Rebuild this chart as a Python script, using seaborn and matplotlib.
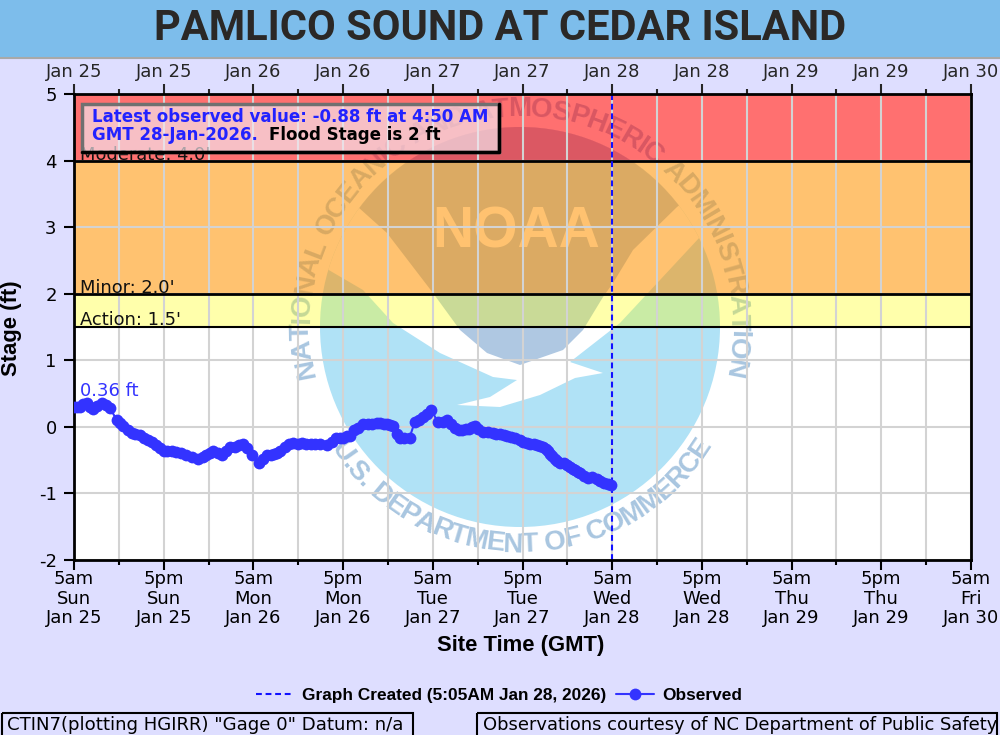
import numpy as np
import pandas as pd
import matplotlib
matplotlib.use("Agg")
import matplotlib.pyplot as plt
import matplotlib.transforms as mtransforms
from matplotlib.font_manager import FontProperties
from matplotlib.lines import Line2D
from matplotlib.patches import Circle, Polygon, Rectangle
from matplotlib.textpath import text_to_path
import seaborn as sns

# observed stage, hours after 5am Jan 25 / feet
hours = [0.0, 0.4, 0.8, 1.2, 1.7, 2.2, 2.6, 3.1, 3.7, 4.3, 4.8,
         5.7, 6.1, 6.6, 7.2, 7.7, 8.2, 8.8, 9.4, 9.9, 10.5, 11.0, 11.5, 12.0, 12.5, 13.1, 13.7, 14.3, 15.0, 15.8,
         16.6, 17.2, 17.7, 18.2, 18.6, 19.2, 19.8, 20.4, 20.9, 21.5, 22.1, 22.6, 23.2, 23.8,
         24.8, 25.3, 25.8, 26.3, 26.7, 27.2, 27.6, 28.2, 28.7, 29.3, 29.9, 30.5, 31.1, 31.7, 32.3, 32.9, 33.8,
         34.5, 35.1, 35.6, 36.0, 36.5, 36.9, 37.4, 38.0, 38.7, 39.3, 39.9, 40.5, 41.0, 41.5, 41.9, 42.3, 42.7,
         43.2, 43.6, 44.2, 44.9,
         45.6, 46.1, 46.7, 47.2, 47.8,
         48.7, 49.3, 49.9, 50.4, 51.0, 51.5, 51.9, 52.4, 52.8, 53.2, 53.6, 54.1, 54.7, 55.4, 56.0, 56.5, 57.0,
         57.5, 57.9, 58.5, 59.0, 59.6, 60.1, 60.6, 61.0, 61.5, 61.9, 62.3, 62.7, 63.1, 63.4, 63.7, 64.0, 64.3,
         64.6, 65.0, 65.5, 66.0, 66.4, 66.7, 67.0, 67.4, 67.7, 68.2, 68.8, 69.3, 69.9, 70.4, 70.9, 71.4, 71.83]
stage = [0.30, 0.30, 0.30, 0.34, 0.36, 0.30, 0.27, 0.32, 0.36, 0.33, 0.28,
         0.11, 0.06, 0.02, -0.05, -0.09, -0.11, -0.12, -0.16, -0.20, -0.23, -0.27, -0.32, -0.36, -0.37, -0.37, -0.38, -0.40, -0.42, -0.46,
         -0.48, -0.46, -0.42, -0.39, -0.36, -0.39, -0.42, -0.37, -0.31, -0.30, -0.28, -0.25, -0.32, -0.42,
         -0.55, -0.49, -0.43, -0.42, -0.41, -0.39, -0.37, -0.31, -0.25, -0.24, -0.25, -0.24, -0.25, -0.25, -0.25, -0.26, -0.28,
         -0.23, -0.17, -0.17, -0.17, -0.14, -0.13, -0.05, -0.02, 0.04, 0.04, 0.05, 0.06, 0.06, 0.05, 0.04, 0.03, 0.01,
         -0.10, -0.16, -0.17, -0.16,
         0.08, 0.11, 0.15, 0.20, 0.25,
         0.07, 0.08, 0.10, 0.04, -0.02, -0.05, -0.05, -0.03, -0.03, 0.00, 0.01, -0.03, -0.07, -0.08, -0.09, -0.10, -0.11,
         -0.12, -0.13, -0.15, -0.17, -0.20, -0.22, -0.24, -0.25, -0.26, -0.27, -0.29, -0.31, -0.34, -0.37, -0.41, -0.44, -0.48,
         -0.52, -0.54, -0.55, -0.58, -0.60, -0.63, -0.65, -0.68, -0.70, -0.74, -0.77, -0.76, -0.78, -0.81, -0.84, -0.86, -0.88]

tick_hours = list(range(0, 121, 12))
top_labels = ["Jan 25", "Jan 25", "Jan 26", "Jan 26", "Jan 27", "Jan 27",
              "Jan 28", "Jan 28", "Jan 29", "Jan 29", "Jan 30"]
bottom_times = ["5am", "5pm"] * 5 + ["5am"]
bottom_days = ["Sun", "Sun", "Mon", "Mon", "Tue", "Tue", "Wed", "Wed", "Thu", "Thu", "Fri"]
stage_ticks = [-2, -1, 0, 1, 2, 3, 4, 5]
created_hour = 72

obs = pd.DataFrame({"hours": hours, "stage": stage})

BG = "#DEDEFF"
LOGO_BLUE = "#B0E2F6"
LOGO_NAVY = "#AFC8E2"
LOGO_TEXT = "#A9C6E0"
OBS = "#3333FF"

sns.set_theme(style="white")
plt.rcParams["font.family"] = "DejaVu Sans"

fig = plt.figure(figsize=(10, 7.35), dpi=100, facecolor=BG)
ax = fig.add_axes([74 / 1000, 1 - 560 / 735, 897 / 1000, 466 / 735])
px = mtransforms.Affine2D().scale(1, -1).translate(0, 735)  # image pixels, y down

# header bar
fig.add_artist(Rectangle((0, 57), 1000, -57, transform=px, fc="#7DBDEB", ec="none"))
fig.add_artist(Line2D([0, 1000], [57.5, 57.5], transform=px, color="#A9A9A9", lw=1.5))
fig.text(0.5, 1 - 29 / 735, "PAMLICO SOUND AT CEDAR ISLAND", ha="center", va="center",
         fontsize=30, family="Roboto", weight="bold", color="#2B2826")

# NOAA seal, sits under the flood bands
disc = Circle((520, 327), 200, transform=px, fc=LOGO_BLUE, ec="none", zorder=0.6)
ax.add_patch(disc)
gull = Polygon([(315, 262), (363, 290), (393, 323), (440, 353), (493, 377), (517, 380), (490, 397),
                (457, 405), (500, 407), (540, 395), (575, 378), (603, 373), (570, 362), (620, 323),
                (700, 237), (730, 200), (520, 100), (330, 200)],
               transform=px, fc="white", ec="none", zorder=0.61)
ax.add_patch(gull)
gull.set_clip_path(disc)
navy = Polygon([(340, 100), (700, 100), (700, 190), (677, 207), (633, 250), (613, 283), (603, 297), (583, 330),
                (563, 350), (520, 365), (487, 353), (460, 330), (433, 293), (387, 233), (358, 207), (340, 190)],
               transform=px, fc=LOGO_NAVY, ec="none", zorder=0.62)
ax.add_patch(navy)
navy.set_clip_path(disc)
ax.text(516, 232, "NOAA", transform=px, ha="center", va="center", fontsize=41, family="Liberation Sans",
        weight="bold", color="white", zorder=0.63)

ring_font = FontProperties(family="Liberation Sans", weight="bold", size=20)


def ring_text(s, start, end, radius, flip=False):
    # letters spaced by their own widths along the arc
    w = np.array([text_to_path.get_text_width_height_descent(c, ring_font, False)[0] for c in s])
    w[np.array(list(s)) == " "] = w.mean() * 0.5
    mid = np.cumsum(w) - w / 2
    angles = start + (end - start) * (mid - mid[0]) / (mid[-1] - mid[0])
    for ch, ang in zip(s, angles):
        x = 520 + radius * np.cos(np.radians(ang))
        y = 327 - radius * np.sin(np.radians(ang))
        rot = ang + 90 if flip else ang - 90
        ax.text(x, y, ch, transform=px, ha="center", va="center", rotation=rot, rotation_mode="anchor",
                fontproperties=ring_font, color=LOGO_TEXT, zorder=0.64)


ring_text("NATIONAL OCEANIC AND ATMOSPHERIC ADMINISTRATION", 191, -11, 218)
ring_text("U.S. DEPARTMENT OF COMMERCE", 215, 326, 218, flip=True)

# flood bands
ax.axhspan(1.5, 2, color="#FFFF00", alpha=0.33, lw=0, zorder=1)
ax.axhspan(2, 4, color="#FF9300", alpha=0.56, lw=0, zorder=1)
ax.axhspan(4, 5, color="#FF0000", alpha=0.56, lw=0, zorder=1)
for lev, w in [(1.5, 1.5), (2, 2), (4, 2)]:
    ax.axhline(lev, color="black", lw=w, zorder=2)

ax.axvline(created_hour, color="#1111FF", lw=1.5, ls=(0, (2.8, 1.8)), zorder=2.5,
           label="Graph Created (5:05AM Jan 28, 2026)")
sns.lineplot(data=obs, x="hours", y="stage", ax=ax, color=OBS, lw=1.5, marker="o", markersize=8.5,
             markeredgewidth=0, estimator=None, sort=False, zorder=3, label="Observed")

ax.set_xlim(0, 120)
ax.set_ylim(-2, 5)
ax.set_xticks(tick_hours)
ax.set_xticks(range(6, 120, 12), minor=True)
ax.set_yticks(stage_ticks)
ax.set_xticklabels([f"{t}\n{d}\n{l}" for t, d, l in zip(bottom_times, bottom_days, top_labels)],
                   fontsize=13, linespacing=1.13)
ax.set_yticklabels([str(v) for v in stage_ticks], fontsize=13)
ax.set_axisbelow("line")
ax.grid(True, which="both", color="#D3D3D3", lw=1.5)
ax.tick_params(axis="x", which="major", bottom=True, length=7.5, width=1.5, color="black", pad=-0.5, labelcolor="black")
ax.tick_params(axis="x", which="minor", bottom=True, length=3.5, width=1.5, color="black")
ax.tick_params(axis="y", which="major", left=True, length=7.5, width=1.5, color="black", pad=5, labelcolor="black")
for sp in ax.spines.values():
    sp.set_visible(True)
    sp.set_color("black")
    sp.set_linewidth(2)

top = ax.secondary_xaxis("top")
top.set_xticks(tick_hours)
top.set_xticks(range(6, 120, 12), minor=True)
top.set_xticklabels(top_labels, fontsize=13)
top.tick_params(axis="x", which="major", length=7.5, width=1.5, pad=1.5, top=True)
top.tick_params(axis="x", which="minor", length=3.5, width=1.5, top=True)
top.spines["top"].set_visible(False)

ax.set_xlabel("")
ax.set_ylabel("")
fig.text(521 / 1000, 1 - 645 / 735, "Site Time (GMT)", ha="center", va="center", fontsize=15.8,
         family="Liberation Sans", weight="bold", color="black")
fig.text(12 / 1000, 1 - 328 / 735, "Stage (ft)", ha="center", va="center", rotation=90, fontsize=15.8,
         family="Liberation Sans", weight="bold", color="black")

# level labels
for y, s in [(155, "Moderate: 4.0'"), (288, "Minor: 2.0'"), (320, "Action: 1.5'")]:
    ax.text(80, y, s, transform=px, fontsize=12.9, va="center", color="#111111", zorder=4)
ax.text(80, 391, "0.36 ft", transform=px, fontsize=13, va="center", color=OBS, zorder=4)

# latest value box
ax.add_patch(Rectangle((82, 104), 417, 48, transform=px, fc="#F4E6EE", alpha=0.68, ec="none", zorder=5))
ax.add_patch(Rectangle((82, 104), 417, 48, transform=px, fc="none", ec="#707070", lw=2.5, zorder=5.1))
ax.add_line(Line2D([499, 499, 82], [104, 152, 152], transform=px, color="black", lw=2.5, zorder=5.2))
ax.text(92, 117.5, "Latest observed value: -0.88 ft at 4:50 AM", transform=px, fontsize=12, weight="bold",
        color="#2222FF", va="center", zorder=6)
ax.text(92, 134.5, "GMT 28-Jan-2026.", transform=px, fontsize=12, weight="bold", color="#2222FF",
        va="center", zorder=6)
ax.text(269, 134.5, "Flood Stage is 2 ft", transform=px, fontsize=12, weight="bold", color="black",
        va="center", zorder=6)

# legend
leg = ax.legend(loc="center", bbox_to_anchor=(499 / 1000, 1 - 695 / 735), bbox_transform=fig.transFigure, ncol=2,
                frameon=False, columnspacing=0.52, handlelength=2.2, handletextpad=0.5, labelcolor="black",
                prop={"family": "Liberation Sans", "weight": "bold", "size": 12.4})

# footer boxes
fig.add_artist(Rectangle((2, 713), 411, 24, transform=px, fc="none", ec="black", lw=1.5))
fig.add_artist(Rectangle((477, 713), 520, 24, transform=px, fc="none", ec="black", lw=1.5))
fig.text(7 / 1000, 1 - 725 / 735, "CTIN7(plotting HGIRR) \"Gage 0\" Datum: n/a", va="center", fontsize=13.1, color="black")
fig.text(483 / 1000, 1 - 725 / 735, "Observations courtesy of NC Department of Public Safety", va="center",
         fontsize=12.9, color="black")

fig.savefig("out.png", dpi=100, facecolor=BG)
